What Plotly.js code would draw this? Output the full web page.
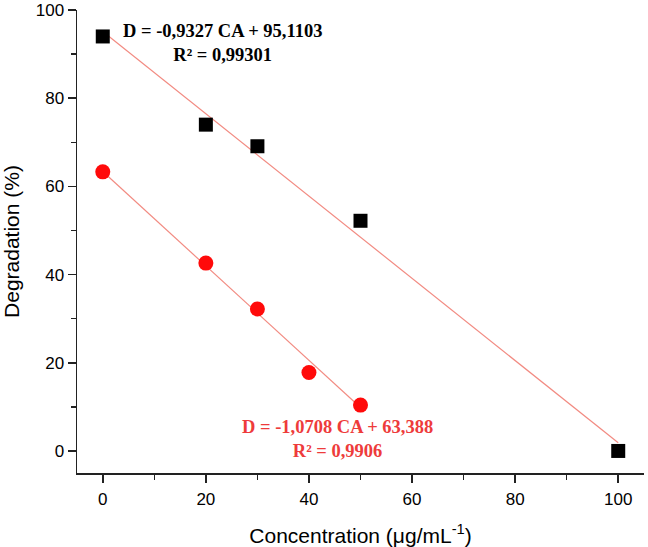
<!DOCTYPE html>
<html><head><meta charset="utf-8">
<script src="https://cdn.plot.ly/plotly-3.0.1.min.js"></script>
<style>html,body{margin:0;padding:0;background:#fff}#chart{width:648px;height:547px}</style>
</head><body><div id="chart"></div>
<script>
// Data
var blackX = [0, 20, 30, 50, 100];
var blackY = [94.0, 74.0, 69.1, 52.2, 0.0];
var redX = [0, 20, 30, 40, 50];
var redY = [63.3, 42.6, 32.2, 17.8, 10.4];
// Fit lines (from the equations in the chart)
var blackSlope = -0.9327, blackIntercept = 95.1103, blackFitX = [0, 100];
var redSlope = -1.0708, redIntercept = 63.388, redFitX = [0, 50];
var blackEq = "D = -0,9327 CA + 95,1103<br>R² = 0,99301";
var redEq = "D = -1,0708 CA + 63,388<br>R² = 0,9906";

function fit(xs, m, b){ return xs.map(function(x){ return m*x + b; }); }

var lineColor = "#f28b82";
var traces = [
  {x: blackFitX, y: fit(blackFitX, blackSlope, blackIntercept), mode: "lines", line: {color: lineColor, width: 1.2}, hoverinfo: "skip"},
  {x: redFitX, y: fit(redFitX, redSlope, redIntercept), mode: "lines", line: {color: lineColor, width: 1.2}, hoverinfo: "skip"},
  {x: blackX, y: blackY, mode: "markers", marker: {symbol: "square", size: 14, color: "#000"}},
  {x: redX, y: redY, mode: "markers", marker: {symbol: "circle", size: 15, color: "#ff0a0a"}}
];

var axisCommon = {
  showgrid: false, zeroline: false, showline: true, linecolor: "#222", linewidth: 1.5,
  ticks: "outside", ticklen: 8, tickwidth: 1.5, tickcolor: "#222",
  tickfont: {family: "Liberation Sans, Arial, sans-serif", size: 17, color: "#000"},
  minor: {dtick: 10, ticks: "outside", ticklen: 5, tickwidth: 1.5, tickcolor: "#222"}
};

var layout = {
  width: 648, height: 547,
  margin: {l: 77, r: 4, t: 10, b: 74},
  paper_bgcolor: "#fff", plot_bgcolor: "#fff",
  showlegend: false,
  xaxis: Object.assign({}, axisCommon, {
    range: [-5, 105], dtick: 20, tick0: 0, ticklabelstandoff: 2,
    title: {text: "Concentration (μg/mL<sup>-1</sup>)", font: {family: "Liberation Sans, Arial, sans-serif", size: 21, color: "#000"}, standoff: 20}
  }),
  yaxis: Object.assign({}, axisCommon, {
    range: [-5, 100], dtick: 20, tick0: 0,
    title: {text: "Degradation (%)", font: {family: "Liberation Sans, Arial, sans-serif", size: 21, color: "#000"}, standoff: 12}
  }),
  annotations: [
    {x: 23.2, y: 92.6, xref: "x", yref: "y", text: blackEq, showarrow: false,
     font: {family: "Liberation Serif, Times New Roman, serif", size: 18.5, color: "#000", weight: "bold"}, align: "center"},
    {x: 45.5, y: 2.6, xref: "x", yref: "y", text: redEq, showarrow: false,
     font: {family: "Liberation Serif, Times New Roman, serif", size: 18.5, color: "#ee3b3b", weight: "bold"}, align: "center"}
  ]
};

Plotly.newPlot("chart", traces, layout, {displayModeBar: false, staticPlot: true});
</script></body></html>
